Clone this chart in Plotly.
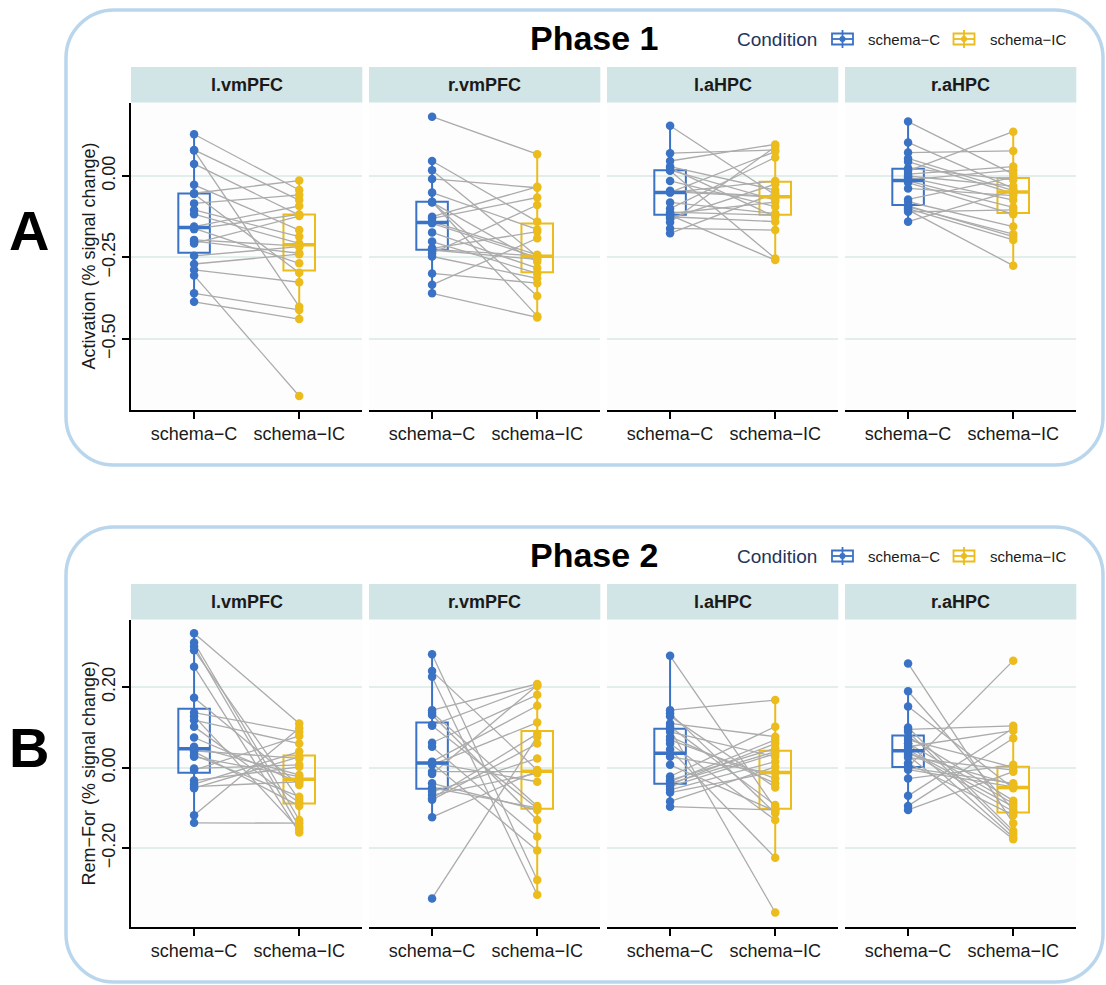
import numpy as np
import plotly.graph_objects as go

# ---------------- data ----------------
conditions = ["schema-C", "schema-IC"]
condition_labels = ["schema−C", "schema−IC"]
regions = ["l.vmPFC", "r.vmPFC", "l.aHPC", "r.aHPC"]
phase_titles = ["Phase 1", "Phase 2"]
panel_letters = ["A", "B"]
y_titles = ["Activation (% signal change)", "Rem−For (% signal change)"]
p1_ticks = [0.0, -0.25, -0.50]
p2_ticks = [0.20, 0.0, -0.20]

# Phase 1 (paired: index i in C matches index i in IC)
p1_lvmpfc_c = [0.128, 0.080, 0.078, 0.037, -0.027, -0.053, -0.055, -0.084, -0.104, -0.117, -0.155,
               -0.161, -0.163, -0.196, -0.200, -0.207, -0.245, -0.270, -0.288, -0.305, -0.360, -0.386]
p1_lvmpfc_ic = [-0.043, -0.074, -0.401, -0.120, -0.166, -0.014, -0.297, -0.058, -0.186, -0.207, -0.092,
                -0.268, -0.118, -0.215, -0.237, -0.123, -0.217, -0.240, -0.326, -0.675, -0.411, -0.439]
p1_rvmpfc_c = [0.182, 0.046, 0.018, -0.009, -0.051, -0.079, -0.081, -0.125, -0.130, -0.140, -0.145,
               -0.173, -0.201, -0.222, -0.225, -0.227, -0.237, -0.247, -0.299, -0.334, -0.360, -0.080]
p1_rvmpfc_ic = [0.067, -0.140, -0.247, -0.036, -0.164, -0.430, -0.263, -0.033, -0.066, -0.242, -0.250,
                -0.283, -0.299, -0.171, -0.245, -0.256, -0.089, -0.314, -0.329, -0.191, -0.434, -0.368]
p1_lahpc_c = [0.154, 0.070, 0.046, 0.029, 0.025, 0.018, 0.016, -0.015, -0.045, -0.048, -0.050,
              -0.051, -0.081, -0.100, -0.111, -0.115, -0.120, -0.125, -0.130, -0.142, -0.161, -0.176]
p1_lahpc_ic = [-0.058, 0.080, 0.097, -0.043, -0.125, -0.074, -0.253, -0.094, -0.063, -0.065, 0.075,
               -0.015, -0.115, 0.057, -0.120, -0.080, -0.258, -0.140, -0.025, 0.090, -0.166, -0.053]
p1_rahpc_c = [0.167, 0.103, 0.072, 0.054, 0.044, 0.024, 0.016, 0.006, 0.000, -0.004, -0.012,
              -0.015, -0.020, -0.038, -0.072, -0.079, -0.092, -0.095, -0.100, -0.104, -0.110, -0.140]
p1_rahpc_ic = [0.006, -0.038, 0.077, -0.045, -0.053, -0.012, 0.136, 0.029, -0.031, -0.074, 0.018,
               -0.096, -0.117, -0.060, -0.004, -0.155, -0.186, -0.178, -0.196, -0.275, -0.104, -0.045]

# Phase 2
p2_lvmpfc_c = [0.334, 0.311, 0.301, 0.292, 0.251, 0.174, 0.137, 0.128, 0.118, 0.102, 0.075, 0.052,
               0.042, 0.040, 0.031, 0.027, -0.002, -0.006, -0.032, -0.041, -0.047, -0.051, -0.118, -0.137]
p2_lvmpfc_ic = [0.110, -0.130, -0.147, -0.080, -0.161, -0.043, 0.089, -0.153, 0.060, -0.087, -0.037, -0.018,
                0.023, -0.095, -0.072, -0.022, 0.007, 0.079, 0.002, 0.040, -0.035, 0.027, 0.098, -0.138]
p2_rvmpfc_c = [0.282, 0.240, 0.226, 0.143, 0.137, 0.131, 0.106, 0.104, 0.062, 0.052, 0.015, 0.012,
               0.011, 0.007, -0.010, -0.016, -0.039, -0.050, -0.060, -0.068, -0.076, -0.080, -0.123, -0.325]
p2_rvmpfc_ic = [-0.279, -0.006, -0.316, 0.208, -0.095, -0.130, 0.203, -0.101, 0.181, -0.171, 0.154, -0.035,
                -0.206, 0.112, -0.010, 0.205, -0.105, -0.100, 0.023, -0.014, 0.084, 0.060, -0.008, 0.077]
p2_lahpc_c = [0.278, 0.143, 0.135, 0.128, 0.110, 0.102, 0.095, 0.089, 0.077, 0.069, 0.060, 0.045,
              0.027, 0.007, -0.022, -0.031, -0.035, -0.039, -0.042, -0.047, -0.055, -0.062, -0.084, -0.097]
p2_lahpc_ic = [-0.101, 0.168, -0.113, -0.049, 0.077, -0.093, -0.360, 0.027, -0.039, -0.027, -0.130, -0.224,
               -0.014, -0.108, 0.102, 0.048, 0.069, 0.040, 0.060, 0.035, 0.015, -0.010, 0.002, -0.105]
p2_rahpc_c = [0.259, 0.190, 0.152, 0.100, 0.095, 0.089, 0.077, 0.069, 0.060, 0.060, 0.052, 0.044,
              0.040, 0.034, 0.030, 0.025, 0.011, 0.002, 0.000, -0.005, -0.027, -0.070, -0.095, -0.105]
p2_rahpc_ic = [-0.138, -0.105, -0.051, -0.157, 0.104, -0.165, -0.082, 0.001, -0.173, -0.089, 0.092, -0.097,
               -0.109, -0.043, -0.178, -0.006, -0.118, 0.266, -0.039, -0.048, 0.007, 0.098, 0.073, -0.010]

phase_data = [
    [(p1_lvmpfc_c, p1_lvmpfc_ic), (p1_rvmpfc_c, p1_rvmpfc_ic), (p1_lahpc_c, p1_lahpc_ic), (p1_rahpc_c, p1_rahpc_ic)],
    [(p2_lvmpfc_c, p2_lvmpfc_ic), (p2_rvmpfc_c, p2_rvmpfc_ic), (p2_lahpc_c, p2_lahpc_ic), (p2_rahpc_c, p2_rahpc_ic)],
]
phase_ticks = [p1_ticks, p2_ticks]
phase_ranges = [[-0.718, 0.224], [-0.396, 0.367]]

# ---------------- style / geometry ----------------
W, H = 1106, 985
FONT = "Liberation Sans, Arial, Helvetica, sans-serif"
COLORS = ["#3A72C5", "#EBBC1B"]
LINE_GRAY = "#ABABAB"
STRIP_FILL = "#D1E4E6"
CARD_LINE = "#BAD6EC"
GRID = "#E1EEEB"
PANEL_BG = "#FDFDFD"
BOX_W = 0.3

col_left = [131, 369, 607, 845]
col_w = 231.3
row_top = [103, 620]
row_bot = [410, 927]
strip_h = 36
row_off = 517


def px(x):
    return x / W


def py(y):
    return 1 - y / H


def box_stats(v):
    v = np.asarray(v, dtype=float)
    q1, med, q3 = np.percentile(v, [25, 50, 75])
    iqr = q3 - q1
    lo = v[v >= q1 - 1.5 * iqr].min()
    hi = v[v <= q3 + 1.5 * iqr].max()
    return q1, med, q3, lo, hi


fig = go.Figure()
layout = dict(
    width=W, height=H, autosize=False,
    margin=dict(l=0, r=0, t=0, b=0),
    paper_bgcolor="white", plot_bgcolor=PANEL_BG,
    showlegend=False, boxmode="overlay",
    font=dict(family=FONT, color="#1A1A1A"),
)
shapes = []
annotations = []

for r in range(2):
    for c in range(4):
        k = r * 4 + c + 1
        xs = "x" if k == 1 else f"x{k}"
        ys = "y" if k == 1 else f"y{k}"
        xkey = "xaxis" if k == 1 else f"xaxis{k}"
        ykey = "yaxis" if k == 1 else f"yaxis{k}"
        layout[xkey] = dict(
            domain=[px(col_left[c]), px(col_left[c] + col_w)], anchor=ys,
            type="category", categoryorder="array", categoryarray=conditions,
            range=[-0.6, 1.6], tickvals=conditions, ticktext=condition_labels,
            showline=True, linecolor="black", linewidth=1.6, ticks="outside",
            ticklen=7, tickwidth=1.6, tickcolor="black", showgrid=False, zeroline=False,
            tickfont=dict(size=18, color="#1A1A1A", family=FONT),
        )
        first = (c == 0)
        layout[ykey] = dict(
            domain=[py(row_bot[r]), py(row_top[r])], anchor=xs,
            range=phase_ranges[r], tickvals=phase_ticks[r], tickformat=".2f",
            showgrid=True, gridcolor=GRID, gridwidth=2, zeroline=False,
            showline=first, linecolor="black", linewidth=1.6,
            ticks="outside" if first else "", ticklen=7, tickwidth=1.6, tickcolor="black",
            showticklabels=first, tickangle=-90,
            tickfont=dict(size=18, color="#1A1A1A", family=FONT),
        )

        cvals, icvals = phase_data[r][c]
        # boxes
        for j, vals in enumerate([cvals, icvals]):
            q1, med, q3, lo, hi = box_stats(vals)
            fig.add_trace(go.Box(
                x=[conditions[j]], q1=[q1], median=[med], q3=[q3],
                lowerfence=[lo], upperfence=[hi], width=BOX_W, whiskerwidth=0,
                line=dict(color=COLORS[j], width=2), fillcolor="rgba(255,255,255,0)",
                boxpoints=False, hoverinfo="skip", xaxis=xs, yaxis=ys,
            ))
            # thicker median bar (as ggplot draws it)
            shapes.append(dict(type="line", xref=xs, yref=ys,
                               x0=j - BOX_W / 2, x1=j + BOX_W / 2, y0=med, y1=med,
                               line=dict(color=COLORS[j], width=3.5), layer="above"))
        # paired lines
        lx, ly = [], []
        for a, b in zip(cvals, icvals):
            lx += [conditions[0], conditions[1], conditions[1]]
            ly += [a, b, None]
        fig.add_trace(go.Scatter(
            x=lx, y=ly, mode="lines", line=dict(color=LINE_GRAY, width=1.3),
            connectgaps=False, hoverinfo="skip", xaxis=xs, yaxis=ys,
        ))
        # points
        for j, vals in enumerate([cvals, icvals]):
            fig.add_trace(go.Scatter(
                x=[conditions[j]] * len(vals), y=vals, mode="markers",
                marker=dict(color=COLORS[j], size=8.5, line=dict(width=0)),
                xaxis=xs, yaxis=ys, hoverinfo="y",
            ))

        # strip
        st = row_top[r] - strip_h
        shapes.append(dict(type="rect", xref="paper", yref="paper",
                           x0=px(col_left[c]), x1=px(col_left[c] + col_w),
                           y0=py(row_top[r] - 0.5), y1=py(st), fillcolor=STRIP_FILL,
                           line=dict(width=0), layer="below"))
        annotations.append(dict(xref="paper", yref="paper", x=px(col_left[c] + col_w / 2),
                                y=py(st + strip_h / 2), text=f"<b>{regions[c]}</b>",
                                showarrow=False, xanchor="center", yanchor="middle",
                                font=dict(size=18, color="#1A1A1A", family=FONT)))


def rounded_path(x0, y0, x1, y1, rad):
    kk = 0.5523 * rad

    def P(x, y):
        return f"{px(x):.5f},{py(y):.5f}"
    return (f"M {P(x0 + rad, y0)} L {P(x1 - rad, y0)} "
            f"C {P(x1 - rad + kk, y0)} {P(x1, y0 + rad - kk)} {P(x1, y0 + rad)} "
            f"L {P(x1, y1 - rad)} "
            f"C {P(x1, y1 - rad + kk)} {P(x1 - rad + kk, y1)} {P(x1 - rad, y1)} "
            f"L {P(x0 + rad, y1)} "
            f"C {P(x0 + rad - kk, y1)} {P(x0, y1 - rad + kk)} {P(x0, y1 - rad)} "
            f"L {P(x0, y0 + rad)} "
            f"C {P(x0, y0 + rad - kk)} {P(x0 + rad - kk, y0)} {P(x0 + rad, y0)} Z")


for r in range(2):
    off = r * row_off
    shapes.append(dict(type="path", xref="paper", yref="paper",
                       path=rounded_path(66, 10 + off, 1103, 465 + off, 48),
                       line=dict(color=CARD_LINE, width=3.5), layer="below"))
    # phase title
    annotations.append(dict(xref="paper", yref="paper", x=px(594), y=py(38 + off),
                            text=f"<b>{phase_titles[r]}</b>", showarrow=False,
                            xanchor="center", yanchor="middle",
                            font=dict(size=34, color="black", family=FONT)))
    # panel letter
    annotations.append(dict(xref="paper", yref="paper", x=px(29), y=py(230 + off),
                            text=f"<b>{panel_letters[r]}</b>", showarrow=False,
                            xanchor="center", yanchor="middle",
                            font=dict(size=56, color="black", family=FONT)))
    # y title
    annotations.append(dict(xref="paper", yref="paper", x=px(88),
                            y=py((row_top[r] + row_bot[r]) / 2),
                            text=y_titles[r], showarrow=False, textangle=-90,
                            xanchor="center", yanchor="middle",
                            font=dict(size=18, color="#1A1A1A", family=FONT)))
    # legend
    ly0 = 39 + off
    annotations.append(dict(xref="paper", yref="paper", x=px(735), y=py(ly0),
                            text="Condition", showarrow=False, xanchor="left",
                            yanchor="middle", font=dict(size=19, color="#22345C", family=FONT)))
    for j, (cx, tx) in enumerate([(842.5, 866), (964, 988)]):
        col = COLORS[j]
        shapes.append(dict(type="rect", xref="paper", yref="paper",
                           x0=px(cx - 10.5), x1=px(cx + 10.5), y0=py(ly0 + 5.5), y1=py(ly0 - 5.5),
                           line=dict(color=col, width=1.8), fillcolor="white"))
        shapes.append(dict(type="line", xref="paper", yref="paper",
                           x0=px(cx - 10.5), x1=px(cx + 10.5), y0=py(ly0), y1=py(ly0),
                           line=dict(color=col, width=1.8)))
        shapes.append(dict(type="line", xref="paper", yref="paper",
                           x0=px(cx), x1=px(cx), y0=py(ly0 - 9), y1=py(ly0 + 9),
                           line=dict(color=col, width=1.8)))
        shapes.append(dict(type="circle", xref="paper", yref="paper",
                           x0=px(cx - 3), x1=px(cx + 3), y0=py(ly0 + 3), y1=py(ly0 - 3),
                           line=dict(color=col, width=0), fillcolor=col))
        annotations.append(dict(xref="paper", yref="paper", x=px(tx), y=py(ly0),
                                text=condition_labels[j], showarrow=False, xanchor="left",
                                yanchor="middle", font=dict(size=15, color="#1A1A1A", family=FONT)))

layout["shapes"] = shapes
layout["annotations"] = annotations
fig.update_layout(**layout)
fig.write_html("out.html", config={"displayModeBar": False},
               post_script="document.body.style.margin='0px';")
